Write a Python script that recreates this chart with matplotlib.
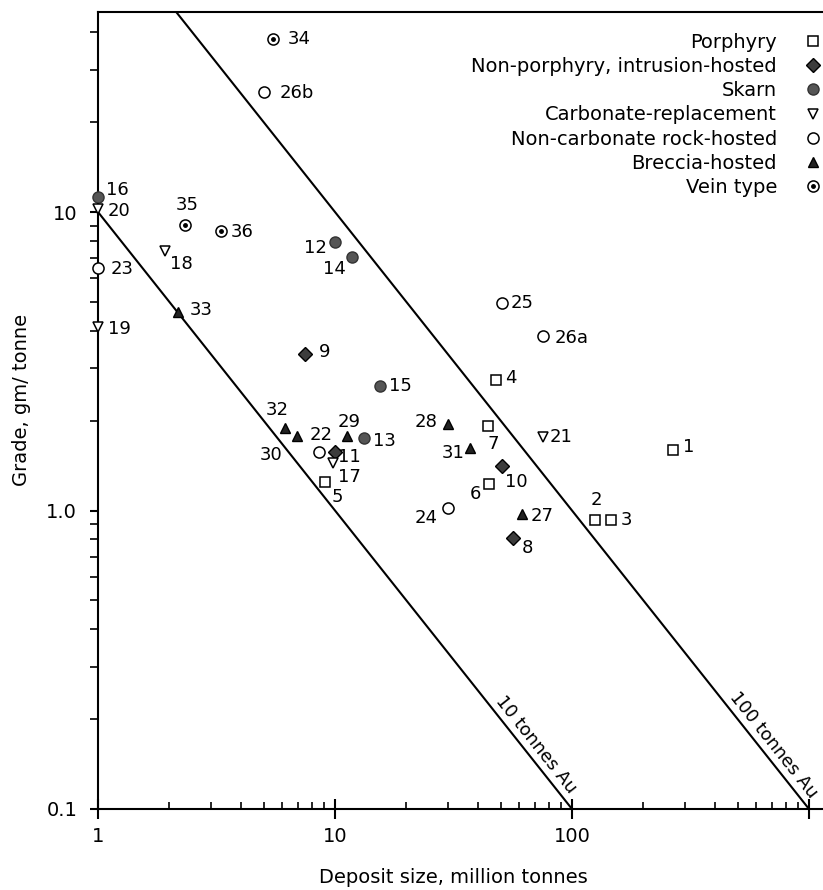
import numpy as np
import matplotlib
matplotlib.use('Agg')
from matplotlib import pyplot as plt
from matplotlib.ticker import LogLocator, NullFormatter, FixedLocator, FixedFormatter

# deposit size (million tonnes) and grade (g/t)
porphyry_ids = ['1', '2', '3', '4', '5', '6', '7']
porphyry_size = [266, 125, 146, 47.8, 9.1, 44.8, 44.3]
porphyry_grade = [1.60, 0.93, 0.93, 2.74, 1.25, 1.23, 1.92]

nonporph_ids = ['8', '9', '10', '11']
nonporph_size = [56.5, 7.5, 50.5, 10.0]
nonporph_grade = [0.81, 3.34, 1.41, 1.57]

skarn_ids = ['12', '13', '14', '15', '16']
skarn_size = [10.0, 13.2, 11.8, 15.5, 1.0]
skarn_grade = [7.95, 1.75, 7.05, 2.61, 11.2]

carb_ids = ['17', '18', '19', '20', '21']
carb_size = [9.8, 1.92, 1.0, 1.0, 75.7]
carb_grade = [1.44, 7.42, 4.13, 10.2, 1.76]

noncarb_ids = ['22', '23', '24', '25', '26a', '26b']
noncarb_size = [8.6, 1.0, 30.1, 50.5, 75.7, 5.0]
noncarb_grade = [1.57, 6.48, 1.02, 4.95, 3.84, 25.3]

breccia_ids = ['27', '28', '29', '30', '31', '32', '33']
breccia_size = [61.3, 30.1, 11.2, 6.9, 37.1, 6.15, 2.18]
breccia_grade = [0.97, 1.95, 1.77, 1.77, 1.62, 1.89, 4.63]

vein_ids = ['34', '35', '36']
vein_size = [5.46, 2.33, 3.30]
vein_grade = [37.9, 9.04, 8.67]

tonnage_lines = [10, 100]

# label offsets from the marker, in pixels (dx right, dy down)
label_offsets = {
    '1': (16, -3), '2': (1, -20), '3': (15, 0), '4': (15, -2), '5': (12, 15),
    '6': (-14, 10), '7': (5, 18), '8': (14, 10), '9': (19, -2), '10': (15, 16),
    '11': (14, 5), '12': (-20, 6), '13': (21, 3), '14': (-18, 12), '15': (20, 0),
    '16': (19, -7), '17': (17, 14), '18': (16, 13), '19': (21, 2), '20': (21, 2),
    '21': (18, 0), '22': (2, -17), '23': (24, 1), '24': (-22, 10), '25': (20, 0),
    '26a': (28, 2), '26b': (33, 1), '27': (20, 2), '28': (-22, -2), '29': (2, -14),
    '30': (-26, 19), '31': (-17, 5), '32': (-8, -18), '33': (23, -2), '34': (26, 0),
    '35': (2, -20), '36': (21, 1),
}

FS = 14
DARK = '#3c3c3c'

fig = plt.figure(figsize=(8.23, 8.90), dpi=100)
ax = fig.add_axes([98 / 823, 81 / 890, 725 / 823, 797 / 890])
ax.set_xscale('log')
ax.set_yscale('log')
ax.set_xlim(1, 10 ** (725 / 237))
ax.set_ylim(0.1, 0.1 * 10 ** (797 / 298.5))

groups = [
    ('Porphyry', porphyry_ids, porphyry_size, porphyry_grade,
     dict(marker='s', ms=7, mfc='white', mec='black', mew=1.1)),
    ('Non-porphyry, intrusion-hosted', nonporph_ids, nonporph_size, nonporph_grade,
     dict(marker='D', ms=7, mfc=DARK, mec='black', mew=1.0)),
    ('Skarn', skarn_ids, skarn_size, skarn_grade,
     dict(marker='o', ms=8, mfc='#555555', mec='#333333', mew=1.0)),
    ('Carbonate-replacement', carb_ids, carb_size, carb_grade,
     dict(marker='v', ms=7.5, mfc='white', mec='black', mew=1.1)),
    ('Non-carbonate rock-hosted', noncarb_ids, noncarb_size, noncarb_grade,
     dict(marker='o', ms=8, mfc='white', mec='black', mew=1.1)),
    ('Breccia-hosted', breccia_ids, breccia_size, breccia_grade,
     dict(marker='^', ms=7.5, mfc='#222222', mec='black', mew=1.0)),
    ('Vein type', vein_ids, vein_size, vein_grade,
     dict(marker='o', ms=8, mfc='white', mec='black', mew=1.1)),
]

handles, labels = [], []
for name, ids, size, grade, style in groups:
    h, = ax.plot(size, grade, ls='none', clip_on=False, zorder=4, **style)
    if name == 'Vein type':
        d, = ax.plot(size, grade, ls='none', marker='o', ms=2.5, color='black',
                     clip_on=False, zorder=5)
        h = (h, d)
    handles.append(h)
    labels.append(name)
    for i, s, g in zip(ids, size, grade):
        dx, dy = label_offsets[i]
        ax.annotate(i, (s, g), xytext=(dx, -dy), textcoords='offset pixels',
                    ha='center', va='center', fontsize=13)

# lines of equal contained gold
xs = np.logspace(0, 3.2, 100)
for t in tonnage_lines:
    ax.plot(xs, t / xs, color='black', lw=1.5, zorder=2)
    g0 = 0.155
    s0 = t / g0
    p1 = ax.transData.transform((s0 / 2, 2 * g0))
    p2 = ax.transData.transform((s0 * 2, g0 / 2))
    ang = np.degrees(np.arctan2(p2[1] - p1[1], p2[0] - p1[0]))
    nx, ny = np.sin(np.radians(-ang)), np.cos(np.radians(-ang))
    ax.annotate('%d tonnes Au' % t, (s0, g0), xytext=(12 * nx, 12 * ny),
                textcoords='offset pixels', rotation=ang, rotation_mode='anchor',
                ha='center', va='center', fontsize=13)

ax.spines['right'].set_visible(False)
for sp in ax.spines.values():
    sp.set_linewidth(1.5)

ax.xaxis.set_major_locator(FixedLocator([1, 10, 100, 1000]))
ax.xaxis.set_major_formatter(FixedFormatter(['1', '10', '100', '']))
ax.xaxis.set_minor_locator(LogLocator(base=10, subs=np.arange(2, 10)))
ax.xaxis.set_minor_formatter(NullFormatter())
ax.yaxis.set_major_locator(FixedLocator([0.1, 1, 10]))
ax.yaxis.set_major_formatter(FixedFormatter(['0.1', '1.0', '10']))
ax.yaxis.set_minor_locator(LogLocator(base=10, subs=np.arange(2, 10)))
ax.yaxis.set_minor_formatter(NullFormatter())

ax.tick_params(axis='x', which='major', direction='inout', length=14, width=1.5,
               pad=6, labelsize=FS)
ax.tick_params(axis='x', which='minor', direction='in', length=5, width=1.2)
ax.tick_params(axis='y', which='major', direction='out', length=6, width=1.5,
               pad=9, labelsize=FS)
ax.tick_params(axis='y', which='minor', direction='out', length=6, width=1.2)

ax.set_xlabel('Deposit size, million tonnes', fontsize=FS)
ax.xaxis.set_label_coords(0.49, -0.074)
ax.set_ylabel('Grade, gm/ tonne', fontsize=FS)
ax.yaxis.set_label_coords(-0.093, 0.513)

ax.legend(handles, labels, loc='upper right', bbox_to_anchor=(1.0, 0.974),
          markerfirst=False, frameon=False, fontsize=FS, handlelength=1.0,
          handletextpad=1.36, labelspacing=0.27, borderpad=0, borderaxespad=0)

fig.savefig('out.png', dpi=100)
